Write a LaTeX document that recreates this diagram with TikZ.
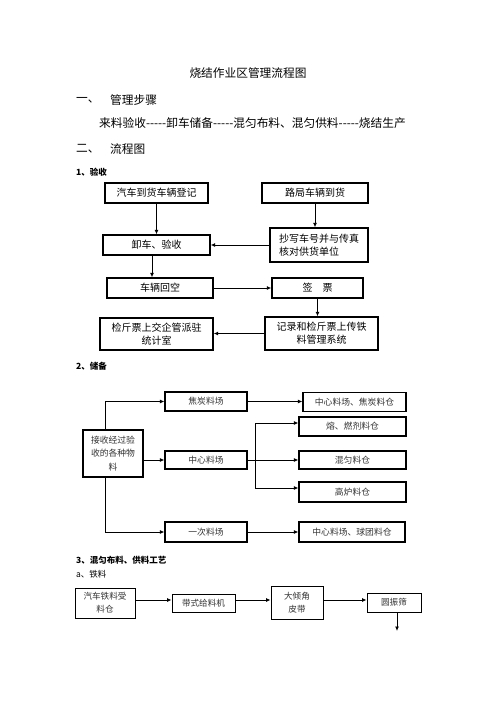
\documentclass[tikz,border=0pt]{standalone}
\usepackage{fontspec}
\setmainfont{Noto Sans CJK SC}
\usetikzlibrary{arrows.meta, calc}

\begin{document}
\begin{tikzpicture}[x=1pt, y=-1pt,
    every node/.style={inner sep=1pt, align=center},
    boxa/.style={draw, line width=1.4pt, font=\fontsize{10}{13.3}\selectfont},
    boxb/.style={draw, line width=1.1pt, text=black!80, font=\fontsize{8.8}{13.3}\selectfont},
    boxc/.style={draw, line width=0.9pt, text=black!80, font=\fontsize{8.6}{13.3}\selectfont},
    arr/.style={-{Latex[length=4.5pt, width=4pt]}, line width=1pt},
    head/.style={anchor=west, font=\fontsize{11.7}{14}\selectfont},
    sub/.style={anchor=west, font=\fontsize{8.5}{10}\selectfont\bfseries}]
    \fill[white] (0,0) rectangle (496,702);
    \useasboundingbox (0,0) rectangle (496,702);

    % Headings
    \node[font=\fontsize{11.7}{14}\selectfont] (title) at (248,73) {烧结作业区管理流程图};
    \node[head] (one) at (75,100) {一、};
    \node[head] (steps) at (109,100) {管理步骤};
    \node[head] (chain) at (98,123) {来料验收-{}-{}-{}-{}-卸车储备-{}-{}-{}-{}-混匀布料、混匀供料-{}-{}-{}-{}-烧结生产};
    \node[head] (two) at (75,149) {二、};
    \node[head] (chart) at (109,149) {流程图};
    \node[sub] (s1) at (75,172) {1、验收};
    \node[sub] (s2) at (75,366) {2、储备};
    \node[sub] (s3) at (75,560) {3、混匀布料、供料工艺};
    \node[sub, font=\fontsize{8.5}{10}\selectfont] (s3a) at (75,574) {a、铁料};

    % 1 验收
    \node[boxa, minimum width=103pt, minimum height=20pt] (car) at (156.5,193) {汽车到货车辆登记};
    \node[boxa, minimum width=106pt, minimum height=20pt] (rail) at (315,193) {路局车辆到货};
    \node[boxa, minimum width=107pt, minimum height=20pt] (unload) at (156.5,245) {卸车、验收};
    \node[boxa, minimum width=98pt, minimum height=34pt, align=left] (copy) at (319,245) {抄写车号并与传真\\核对供货单位};
    \node[boxa, minimum width=106pt, minimum height=20pt] (empty) at (160,288) {车辆回空};
    \node[boxa, minimum width=91pt, minimum height=20pt] (sign) at (317.5,288) {签\quad 票};
    \node[boxa, minimum width=113pt, minimum height=32pt] (office) at (156.5,334) {检斤票上交企管派驻\\统计室};
    \node[boxa, minimum width=113pt, minimum height=33pt] (record) at (321.5,333.5) {记录和检斤票上传铁\\料管理系统};

    \coordinate (drop) at (152,0);
    \draw[arr] (car.south) -- (car.south |- unload.north);
    \draw[arr] (rail.south) -- (rail.south |- copy.north);
    \draw[arr] (copy.west) -- (copy.west -| unload.east);
    \draw[arr] (unload.south -| drop) -- (empty.north -| drop);
    \draw[arr] (empty.east) -- (sign.west);
    \draw[arr] (sign.south) -- (sign.south |- record.north);
    \draw[arr] (record.west) -- (record.west -| office.east);

    % 2 储备
    \node[boxb, minimum width=60pt, minimum height=47pt] (recv) at (113,453.5) {接收经过验\\收的各种物\\料};
    \node[boxb, minimum width=82pt, minimum height=19pt] (coke) at (206,401.5) {焦炭料场};
    \node[boxb, minimum width=82pt, minimum height=18pt] (yard) at (206,460) {中心料场};
    \node[boxb, minimum width=82pt, minimum height=20pt] (primary) at (206,532) {一次料场};
    \node[boxb, minimum width=103pt, minimum height=19pt] (cokebin) at (354.5,402) {中心料场、焦炭料仓};
    \node[boxb, minimum width=107pt, minimum height=19pt] (fluxbin) at (352.5,426.5) {熔、燃剂料仓};
    \node[boxb, minimum width=107pt, minimum height=18pt] (blendbin) at (352.5,460) {混匀料仓};
    \node[boxb, minimum width=107pt, minimum height=20pt] (bfbin) at (352.5,492) {高炉料仓};
    \node[boxb, minimum width=106pt, minimum height=20pt] (pelletbin) at (352,532) {中心料场、球团料仓};

    \coordinate (up) at ([xshift=-8pt]recv.north);
    \coordinate (down) at ([xshift=-8pt]recv.south);
    \coordinate (forktop) at (255,423);
    \coordinate (forkbot) at (255,488);
    \draw[arr] (up) |- (coke.west);
    \draw[arr] (down) |- (primary.west);
    \draw[arr] (recv.east |- yard.west) -- (yard.west);
    \draw[arr] (coke.east) -- (coke.east -| cokebin.west);
    \draw[arr] (yard.east) -- (yard.east -| blendbin.west);
    \draw[arr] (primary.east) -- (primary.east -| pelletbin.west);
    \draw[line width=1pt] (forktop) -- (forkbot);
    \draw[arr] (forktop) -- (forktop -| fluxbin.west);
    \draw[arr] (forkbot) -- (forkbot -| bfbin.west);

    % 3 铁料
    \node[boxc, minimum width=60pt, minimum height=30pt] (truckbin) at (105,603) {汽车铁料受\\料仓};
    \node[boxc, minimum width=63pt, minimum height=18pt] (feeder) at (203.5,603) {带式给料机};
    \node[boxc, minimum width=52pt, minimum height=33pt] (belt) at (297,602.5) {大倾角\\皮带};
    \node[boxc, minimum width=54pt, minimum height=19pt] (screen) at (394,602.5) {圆振筛};

    \coordinate (row) at (0,600);
    \coordinate (next) at (397,631);
    \draw[arr] (truckbin.east |- row) -- (feeder.west |- row);
    \draw[arr] (feeder.east |- row) -- (belt.west |- row);
    \draw[arr] (belt.east |- row) -- (screen.west |- row);
    \draw[arr] (screen.south -| next) -- (next);
\end{tikzpicture}
\end{document}
